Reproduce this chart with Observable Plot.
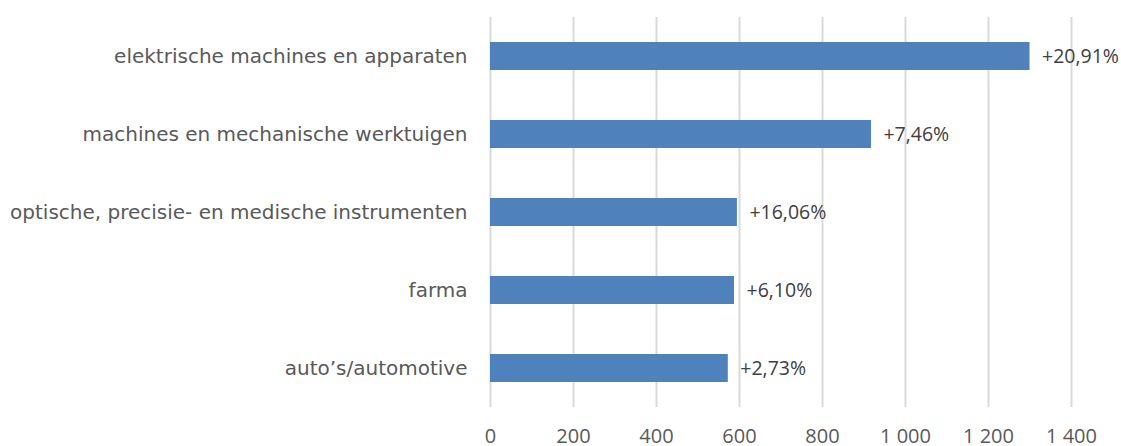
<!DOCTYPE html>
<html>
<head>
<meta charset="utf-8">
<script src="https://cdn.jsdelivr.net/npm/d3@7"></script>
<script src="https://cdn.jsdelivr.net/npm/@observablehq/plot@0.6"></script>
<style>
  html, body { margin: 0; padding: 0; background: #fff; }
  #chart svg { display: block; }
</style>
</head>
<body>
<div id="chart"></div>
<script>
const categories = [
  "elektrische machines en apparaten",
  "machines en mechanische werktuigen",
  "optische, precisie- en medische instrumenten",
  "farma",
  "auto’s/automotive"
];
const values = [1300, 918, 595, 588, 573];
const changes = ["+20,91%", "+7,46%", "+16,06%", "+6,10%", "+2,73%"];
const xTicks = [0, 200, 400, 600, 800, 1000, 1200, 1400];
const xTickLabels = ["0", "200", "400", "600", "800", "1 000", "1 200", "1 400"];

const data = categories.map((c, i) => ({category: c, value: values[i], change: changes[i]}));
const fmt = d => xTickLabels[xTicks.indexOf(d)];

const chart = Plot.plot({
  width: 1121,
  height: 446,
  marginLeft: 490,
  marginRight: 50,
  marginTop: 17,
  marginBottom: 39,
  style: {fontFamily: "'Open Sans', sans-serif", fontSize: "20px", background: "#fff"},
  x: {domain: [0, 1400], ticks: xTicks, tickFormat: fmt},
  y: {domain: categories, paddingInner: 0.64, paddingOuter: 0.32, label: null},
  marks: [
    Plot.gridX(xTicks, {stroke: "#d9d9d9", strokeOpacity: 1, strokeWidth: 2}),
    Plot.barX(data, {x: "value", y: "category", fill: "#4f81bd"}),
    Plot.text(data, {x: "value", y: "category", text: "change", textAnchor: "start", dx: 12, fill: "#404040", fontSize: 19.5}),
    Plot.axisY({tickSize: 0, tickPadding: 23, fill: "#595959", label: null, fontSize: 20, fontFamily: "'DejaVu Sans', sans-serif"}),
    Plot.axisX({ticks: xTicks, tickSize: 0, tickPadding: 21, fill: "#595959", label: null, fontSize: 20, tickFormat: fmt})
  ]
});
document.getElementById("chart").appendChild(chart);
</script>
</body>
</html>
